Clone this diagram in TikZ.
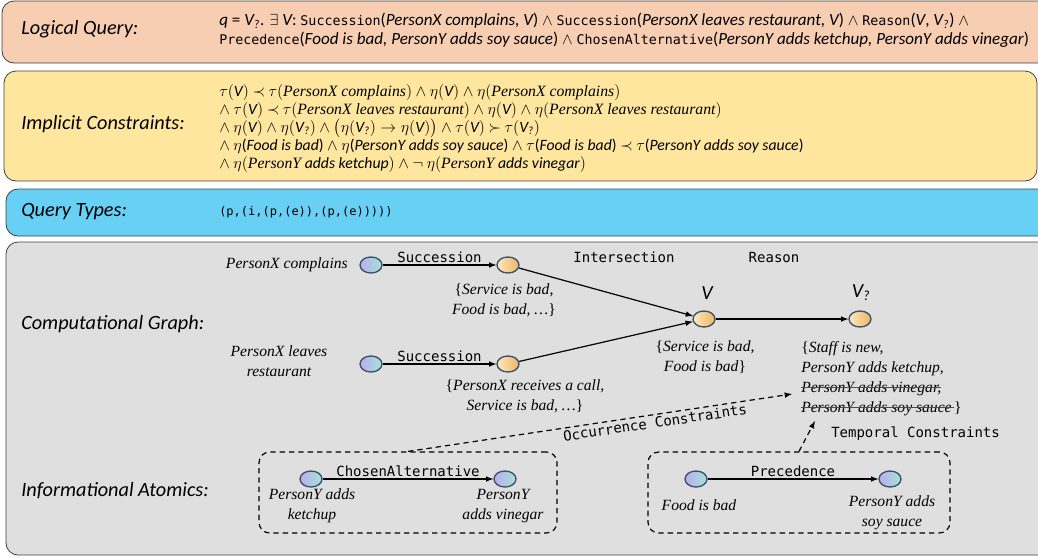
\documentclass[tikz,border=0pt]{standalone}
\usepackage{fontspec}
\usepackage{amsmath,amssymb}
\usetikzlibrary{shapes.geometric,positioning}
\setmonofont{DejaVu Sans Mono}
\newfontfamily\calib{Carlito}
\newfontfamily\camb{Liberation Serif}

\definecolor{lqfill}{RGB}{248,206,178}
\definecolor{icfill}{RGB}{255,230,158}
\definecolor{qtfill}{RGB}{104,208,245}
\definecolor{cgfill}{RGB}{223,223,223}
\definecolor{nodeline}{RGB}{60,80,105}
\definecolor{evtA}{RGB}{188,172,240}
\definecolor{evtB}{RGB}{165,228,212}
\definecolor{varA}{RGB}{252,234,192}
\definecolor{varB}{RGB}{236,180,98}

\newcommand{\rel}[1]{{\ttfamily\fontsize{10}{12}\selectfont #1}}
\newcommand{\sit}[1]{{\camb\itshape #1}}
\newcommand{\cit}[1]{{\calib\itshape #1}}
\newcommand{\tauof}[1]{$\tau($#1$)$}
\newcommand{\etaof}[1]{$\eta($#1$)$}
\newcommand{\vq}{\cit{V}\textsubscript{\cit{?}}}
\newsavebox\strkbox
\newcommand{\strk}[1]{\sbox\strkbox{#1}\makebox[0pt][l]{\usebox\strkbox}\textcolor{black!70}{\rule[0.28em]{\wd\strkbox}{0.5pt}}}

\tikzset{
  panel/.style={draw=black!75, line width=0.6pt, rounded corners=9pt},
  head/.style={anchor=west, inner sep=0pt, font=\calib\itshape\fontsize{15.2}{17}\selectfont},
  evtnode/.style={ellipse, draw=nodeline, line width=1pt, minimum width=16.5pt,
    minimum height=12pt, inner sep=0pt, left color=evtA, right color=evtB},
  varnode/.style={ellipse, draw=nodeline, line width=1pt, minimum width=16.5pt,
    minimum height=12pt, inner sep=0pt, left color=varA, right color=varB},
  evlabel/.style={inner sep=0pt, font=\camb\itshape\fontsize{11.7}{15}\selectfont},
  rlabel/.style={inner sep=1.5pt, font=\ttfamily\fontsize{10.5}{12}\selectfont},
  arr/.style={-latex, line width=0.9pt},
  darr/.style={-latex, dash pattern=on 4pt off 3pt, line width=0.9pt},
  atombox/.style={draw, dash pattern=on 4pt off 3pt, line width=0.9pt, rounded corners=8pt},
}

\begin{document}
\begin{tikzpicture}[x=0.75pt,y=-0.75pt]
\useasboundingbox (0,0) rectangle (1038,558);

% panels
\draw[panel,fill=lqfill] (2,1) rectangle (1060,63);
\draw[panel,fill=icfill] (4,71) rectangle (1037,181);
\draw[panel,fill=qtfill] (6,189) rectangle (1060,236);
\draw[panel,fill=cgfill] (6,242) rectangle (1060,555);

\node[head] (lqh) at (21,29) {Logical Query:};
\node[head] (ich) at (21,124) {Implicit Constraints:};
\node[head] (qth) at (21,212) {Query Types:};
\node[head] (cgh) at (21,324) {Computational Graph:};
\node[head] (iah) at (21,491) {Informational Atomics:};

% logical query
\node[anchor=west, inner sep=0pt, align=left, font=\calib\fontsize{12.8}{14}\selectfont] (lq) at (219,30) {%
\cit{q} = \vq. $\exists$ \cit{V}: \rel{Succession}(\cit{PersonX complains, V}) $\wedge$ \rel{Succession}(\cit{PersonX leaves restaurant, V}) $\wedge$ \rel{Reason}(\cit{V}, \vq) $\wedge$\\
\rel{Precedence}(\cit{Food is bad, PersonY adds soy sauce}) $\wedge$ \rel{ChosenAlternative}(\cit{PersonY adds ketchup, PersonY adds vinegar})};

% implicit constraints
\begin{scope}[every node/.style={anchor=west, inner sep=0pt, font=\calib\fontsize{11.8}{13}\selectfont}]
\node (ic1) at (219,92) {\tauof{\cit{V}}\ $\prec$ \tauof{\sit{PersonX complains}} $\wedge$ \etaof{\cit{V}} $\wedge$ \etaof{\sit{PersonX complains}}};
\node (ic2) at (219,110) {$\wedge$ \tauof{\cit{V}}\ $\prec$ \tauof{\sit{PersonX leaves restaurant}} $\wedge$ \etaof{\cit{V}} $\wedge$ \etaof{\sit{PersonX leaves restaurant}}};
\node (ic3) at (219,128) {$\wedge$ $\eta($\cit{V}$)$ $\wedge$ $\eta($\vq$)$ $\wedge$ $\big($$\eta($\vq$)\rightarrow\eta($\cit{V}$)$$\big)$ $\wedge$\ \tauof{\cit{V}}\ $\succ$ \tauof{\vq}};
\node (ic4) at (219,146) {$\wedge$ $\eta$(\cit{Food is bad}) $\wedge$ $\eta$(\cit{PersonY adds soy sauce}) $\wedge$ $\tau$(\cit{Food is bad}) $\prec$ $\tau$(\cit{PersonY adds soy sauce})};
\node (ic5) at (219,164) {$\wedge$ \etaof{\sit{PersonY} \cit{adds ketchup}} $\wedge$ $\neg$ \etaof{\sit{PersonY} \cit{adds vinegar}}};
\end{scope}

% query types
\node[anchor=west, inner sep=0pt, font=\ttfamily\fontsize{9}{11}\selectfont] (qt) at (219,212) {(p,(i,(p,(e)),(p,(e)))))};

% computational graph
\node[evtnode] (pxc) at (371,265) {};
\node[varnode] (s1) at (508,265) {};
\node[evtnode] (pxl) at (371,364) {};
\node[varnode] (s2) at (508,364) {};
\node[varnode] (v) at (704,319) {};
\node[varnode] (vr) at (860,319) {};

\draw[arr] (pxc) -- node[rlabel,above] {Succession} (s1);
\draw[arr] (pxl) -- node[rlabel,above] {Succession} (s2);
\draw[arr] (s1) -- (v);
\draw[arr] (s2) -- (v);
\draw[arr] (v) -- (vr);

\node[rlabel] (isect) at (624,257) {Intersection};
\node[rlabel] (rsn) at (774,257) {Reason};
\node[inner sep=0pt, font=\calib\itshape\fontsize{15}{17}\selectfont] (vn) at (707,293) {V};
\node[inner sep=0pt, font=\calib\itshape\fontsize{15}{17}\selectfont] (vrn) at (861,293) {V\textsubscript{?}};

\node[evlabel, anchor=east] (pxct) at (348,265) {PersonX complains};
\node[evlabel, align=center] (pxlt) at (279,361) {PersonX leaves\\restaurant};
\node[evlabel, align=center] (s1t) at (504,300) {\textup{\{}Service is bad,\\Food is bad, \dots\textup{\}}};
\node[evlabel, align=center] (s2t) at (525,396) {\textup{\{}PersonX receives a call,\\Service is bad, \dots\textup{\}}};
\node[evlabel, align=center] (vt) at (705,357) {\textup{\{}Service is bad,\\Food is bad\textup{\}}};
\node[evlabel, align=left, anchor=north west] (vrt) at (801,341) {\textup{\{}Staff is new,\\PersonY adds ketchup,\\\strk{PersonY adds vinegar,}\\\strk{PersonY adds soy sauce\,}\textup{\}}};

% informational atomics
\node[atombox, minimum width=223.5pt, minimum height=60.75pt] (cabox) at (408,492.5) {};
\node[atombox, minimum width=226.5pt, minimum height=60.75pt] (tcbox) at (799,492.5) {};

\node[evtnode] (pyk) at (311,479) {};
\node[evtnode] (pyv) at (505,479) {};
\node[evtnode] (fib) at (696,479) {};
\node[evtnode] (pys) at (890,479) {};
\draw[arr] (pyk) -- node[rlabel,above] {ChosenAlternative} (pyv);
\draw[arr] (fib) -- node[rlabel,above] {Precedence} (pys);

\node[evlabel, align=center] (pykt) at (312,506) {PersonY adds\\ketchup};
\node[evlabel, align=center] (pyvt) at (503,506) {PersonY\\adds vinegar};
\node[evlabel] (fibt) at (699,505) {Food is bad};
\node[evlabel, align=center] (pyst) at (892,513) {PersonY adds\\soy sauce};

\coordinate (occend) at (792,394);
\coordinate (tmpend) at (815,421);
\draw[darr] (cabox.north) -- node[rlabel, sloped, below, pos=0.64] {Occurrence Constraints} (occend);
\draw[darr] (tcbox.north) -- (tmpend);
\node[rlabel, anchor=west] (tmpt) at (829,434) {Temporal Constraints};
\end{tikzpicture}
\end{document}
